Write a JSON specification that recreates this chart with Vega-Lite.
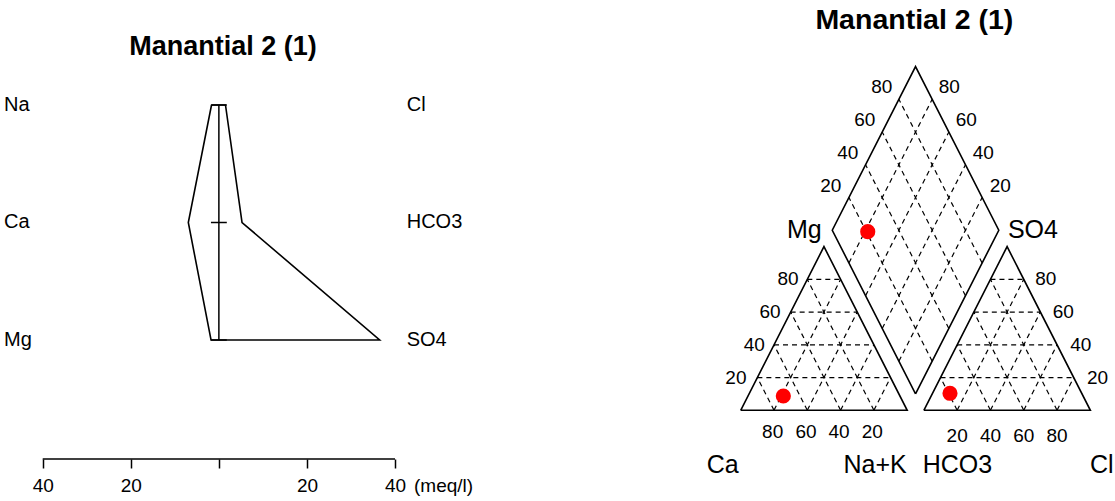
{
  "$schema": "https://vega.github.io/schema/vega-lite/v6.json",
  "width": 1115,
  "height": 501,
  "padding": 0,
  "autosize": {"type": "none"},
  "background": "white",
  "config": {
    "view": {"stroke": null},
    "font": "Liberation Sans",
    "text": {"font": "Liberation Sans", "color": "black"},
    "axis": {"labelFont": "Liberation Sans"}
  },
  "datasets": {
    "stiffPoly": [
      {"ion": "Na", "x": -1.67, "y": 3, "o": 1},
      {"ion": "Ca", "x": -6.94, "y": 2, "o": 2},
      {"ion": "Mg", "x": -1.78, "y": 1, "o": 3},
      {"ion": "SO4", "x": 36.5, "y": 1, "o": 4},
      {"ion": "HCO3", "x": 5.26, "y": 2, "o": 5},
      {"ion": "Cl", "x": 1.5, "y": 3, "o": 6},
      {"ion": "Na", "x": -1.67, "y": 3, "o": 7}
    ],
    "stiffTicks": [
      {"x": -1.8, "x2": 1.8, "y": 3},
      {"x": -1.8, "x2": 1.8, "y": 2},
      {"x": -1.8, "x2": 1.8, "y": 1}
    ],
    "stiffCenter": [{"x": 0, "y": 1, "y2": 3}],
    "stiffAxisLine": [{"x": -40, "x2": 40, "y": -0.013}],
    "stiffLabels": [
      {"label": "Na", "x": -48.79, "y": 3},
      {"label": "Ca", "x": -48.79, "y": 2},
      {"label": "Mg", "x": -48.79, "y": 1},
      {"label": "Cl", "x": 42.65, "y": 3},
      {"label": "HCO3", "x": 42.65, "y": 2},
      {"label": "SO4", "x": 42.65, "y": 1}
    ],
    "stiffUnit": [{"label": "(meq/l)", "x": 44.3, "y": -0.2426}],
    "stiffTitle": [{"label": "Manantial 2 (1)", "x": 0.94, "y": 3.494}],
    "grid": [
      {"u": 10, "v": 17.32, "u2": 90, "v2": 17.32},
      {"u": 20, "v": 34.64, "u2": 80, "v2": 34.64},
      {"u": 30, "v": 51.96, "u2": 70, "v2": 51.96},
      {"u": 40, "v": 69.28, "u2": 60, "v2": 69.28},
      {"u": 80, "v": 0, "u2": 40, "v2": 69.28},
      {"u": 60, "v": 0, "u2": 30, "v2": 51.96},
      {"u": 40, "v": 0, "u2": 20, "v2": 34.64},
      {"u": 20, "v": 0, "u2": 10, "v2": 17.32},
      {"u": 20, "v": 0, "u2": 60, "v2": 69.28},
      {"u": 40, "v": 0, "u2": 70, "v2": 51.96},
      {"u": 60, "v": 0, "u2": 80, "v2": 34.64},
      {"u": 80, "v": 0, "u2": 90, "v2": 17.32},
      {"u": 120, "v": 17.32, "u2": 200, "v2": 17.32},
      {"u": 130, "v": 34.64, "u2": 190, "v2": 34.64},
      {"u": 140, "v": 51.96, "u2": 180, "v2": 51.96},
      {"u": 150, "v": 69.28, "u2": 170, "v2": 69.28},
      {"u": 190, "v": 0, "u2": 150, "v2": 69.28},
      {"u": 170, "v": 0, "u2": 140, "v2": 51.96},
      {"u": 150, "v": 0, "u2": 130, "v2": 34.64},
      {"u": 130, "v": 0, "u2": 120, "v2": 17.32},
      {"u": 130, "v": 0, "u2": 170, "v2": 69.28},
      {"u": 150, "v": 0, "u2": 180, "v2": 51.96},
      {"u": 170, "v": 0, "u2": 190, "v2": 34.64},
      {"u": 190, "v": 0, "u2": 200, "v2": 17.32},
      {"u": 115, "v": 25.98, "u2": 65, "v2": 112.58},
      {"u": 125, "v": 43.3, "u2": 75, "v2": 129.9},
      {"u": 135, "v": 60.62, "u2": 85, "v2": 147.22},
      {"u": 145, "v": 77.94, "u2": 95, "v2": 164.54},
      {"u": 95, "v": 25.98, "u2": 145, "v2": 112.58},
      {"u": 85, "v": 43.3, "u2": 135, "v2": 129.9},
      {"u": 75, "v": 60.62, "u2": 125, "v2": 147.22},
      {"u": 65, "v": 77.94, "u2": 115, "v2": 164.54}
    ],
    "outline": [
      {"shape": "cation", "o": 1, "u": 0, "v": 0},
      {"shape": "cation", "o": 2, "u": 100, "v": 0},
      {"shape": "cation", "o": 3, "u": 50, "v": 86.6},
      {"shape": "cation", "o": 4, "u": 0, "v": 0},
      {"shape": "anion", "o": 1, "u": 110, "v": 0},
      {"shape": "anion", "o": 2, "u": 210, "v": 0},
      {"shape": "anion", "o": 3, "u": 160, "v": 86.6},
      {"shape": "anion", "o": 4, "u": 110, "v": 0},
      {"shape": "diamond", "o": 1, "u": 105, "v": 8.66},
      {"shape": "diamond", "o": 2, "u": 155, "v": 95.26},
      {"shape": "diamond", "o": 3, "u": 105, "v": 181.87},
      {"shape": "diamond", "o": 4, "u": 55, "v": 95.26},
      {"shape": "diamond", "o": 5, "u": 105, "v": 8.66}
    ],
    "points": [
      {"plot": "cation", "u": 25.6, "v": 7.57},
      {"plot": "anion", "u": 125.7, "v": 9.0},
      {"plot": "diamond", "u": 76.3, "v": 94.5}
    ],
    "tickLabels": [
      {"label": "20", "u": -2.9, "v": 17.32},
      {"label": "40", "u": 8.2, "v": 34.64},
      {"label": "60", "u": 17.6, "v": 51.96},
      {"label": "80", "u": 28.4, "v": 69.28},
      {"label": "80", "u": 19.2, "v": -11.3},
      {"label": "60", "u": 39.2, "v": -11.3},
      {"label": "40", "u": 59.0, "v": -11.3},
      {"label": "20", "u": 79.0, "v": -11.3},
      {"label": "20", "u": 214.3, "v": 17.32},
      {"label": "40", "u": 204.3, "v": 34.64},
      {"label": "60", "u": 193.7, "v": 51.96},
      {"label": "80", "u": 183.2, "v": 69.28},
      {"label": "20", "u": 130, "v": -13.6},
      {"label": "40", "u": 150, "v": -13.6},
      {"label": "60", "u": 170, "v": -13.6},
      {"label": "80", "u": 190, "v": -13.6},
      {"label": "20", "u": 54.1, "v": 118.9},
      {"label": "40", "u": 64.3, "v": 136.2},
      {"label": "60", "u": 74.5, "v": 153.5},
      {"label": "80", "u": 84.7, "v": 170.8},
      {"label": "20", "u": 155.9, "v": 118.9},
      {"label": "40", "u": 145.7, "v": 136.2},
      {"label": "60", "u": 135.5, "v": 153.5},
      {"label": "80", "u": 125.3, "v": 170.8}
    ],
    "cornerLeft": [
      {"label": "SO4", "u": 160.5, "v": 95.3},
      {"label": "Ca", "u": -20.4, "v": -28.9},
      {"label": "HCO3", "u": 109.3, "v": -28.9},
      {"label": "Cl", "u": 209.8, "v": -28.9}
    ],
    "cornerRight": [
      {"label": "Mg", "u": 48.65, "v": 95.3},
      {"label": "Na+K", "u": 99.7, "v": -28.9}
    ],
    "piperTitle": [{"label": "Manantial 2 (1)", "u": 104.3, "v": 206.5}]
  },
  "layer": [
    {
      "encoding": {
        "x": {
          "field": "x",
          "type": "quantitative",
          "scale": {"domain": [-49.7, 203.48], "nice": false, "zero": false},
          "axis": {
            "orient": "bottom",
            "offset": -42,
            "values": [-40, -20, 0, 20, 40],
            "domain": false,
            "grid": false,
            "ticks": true,
            "tickSize": 9,
            "tickColor": "black",
            "tickWidth": 1.5,
            "labelFontSize": 19,
            "labelColor": "black",
            "labelPadding": 8,
            "labelFlush": false,
            "labelOverlap": false,
            "labelBound": false,
            "labelExpr": "datum.value == 0 ? '' : format(abs(datum.value), 'd')",
            "title": null
          }
        },
        "y": {
          "field": "y",
          "type": "quantitative",
          "scale": {"domain": [-0.3702, 3.8936], "nice": false, "zero": false},
          "axis": null
        }
      },
      "layer": [
        {
          "data": {"name": "stiffPoly"},
          "mark": {"type": "line", "color": "black", "strokeWidth": 1.6, "strokeJoin": "miter"},
          "encoding": {"order": {"field": "o", "type": "quantitative"}}
        },
        {
          "data": {"name": "stiffTicks"},
          "mark": {"type": "rule", "color": "black", "strokeWidth": 1.5},
          "encoding": {"x2": {"field": "x2"}}
        },
        {
          "data": {"name": "stiffCenter"},
          "mark": {"type": "rule", "color": "black", "strokeWidth": 1.5},
          "encoding": {"y2": {"field": "y2"}}
        },
        {
          "data": {"name": "stiffAxisLine"},
          "mark": {"type": "rule", "color": "black", "strokeWidth": 1.5},
          "encoding": {"x2": {"field": "x2"}}
        },
        {
          "data": {"name": "stiffLabels"},
          "mark": {"type": "text", "align": "left", "baseline": "middle", "fontSize": 20},
          "encoding": {"text": {"field": "label"}}
        },
        {
          "data": {"name": "stiffUnit"},
          "mark": {"type": "text", "align": "left", "baseline": "middle", "fontSize": 19},
          "encoding": {"text": {"field": "label"}}
        },
        {
          "data": {"name": "stiffTitle"},
          "mark": {"type": "text", "align": "center", "baseline": "middle", "fontSize": 27, "fontWeight": "bold"},
          "encoding": {"text": {"field": "label"}}
        }
      ]
    },
    {
      "encoding": {
        "x": {
          "field": "u",
          "type": "quantitative",
          "scale": {"domain": [-444.86, 224.8], "nice": false, "zero": false},
          "axis": null
        },
        "y": {
          "field": "v",
          "type": "quantitative",
          "scale": {"domain": [-47.99, 217.09], "nice": false, "zero": false},
          "axis": null
        }
      },
      "layer": [
        {
          "data": {"name": "grid"},
          "mark": {"type": "rule", "color": "black", "strokeWidth": 1.2, "strokeDash": [5, 4]},
          "encoding": {"x2": {"field": "u2"}, "y2": {"field": "v2"}}
        },
        {
          "data": {"name": "outline"},
          "mark": {"type": "line", "color": "black", "strokeWidth": 1.6, "strokeJoin": "miter"},
          "encoding": {
            "detail": {"field": "shape"},
            "order": {"field": "o", "type": "quantitative"}
          }
        },
        {
          "data": {"name": "points"},
          "mark": {"type": "circle", "color": "#ff0000", "opacity": 1, "size": 230}
        },
        {
          "data": {"name": "tickLabels"},
          "mark": {"type": "text", "align": "center", "baseline": "middle", "fontSize": 19},
          "encoding": {"text": {"field": "label"}}
        },
        {
          "data": {"name": "cornerLeft"},
          "mark": {"type": "text", "align": "left", "baseline": "middle", "fontSize": 25},
          "encoding": {"text": {"field": "label"}}
        },
        {
          "data": {"name": "cornerRight"},
          "mark": {"type": "text", "align": "right", "baseline": "middle", "fontSize": 25},
          "encoding": {"text": {"field": "label"}}
        },
        {
          "data": {"name": "piperTitle"},
          "mark": {"type": "text", "align": "center", "baseline": "middle", "fontSize": 28.5, "fontWeight": "bold"},
          "encoding": {"text": {"field": "label"}}
        }
      ]
    }
  ],
  "resolve": {
    "scale": {"x": "independent", "y": "independent"},
    "axis": {"x": "independent", "y": "independent"}
  }
}
